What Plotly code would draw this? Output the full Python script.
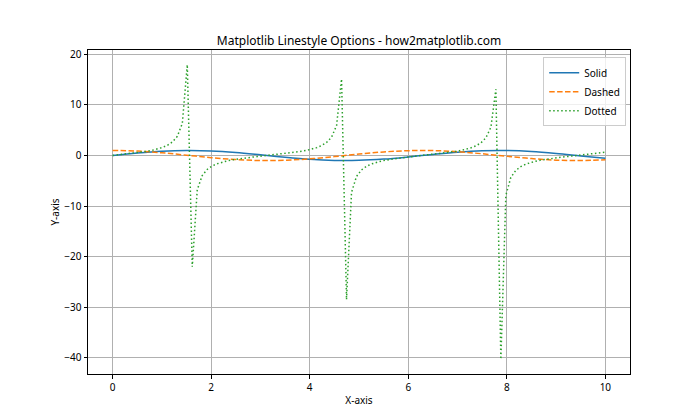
import plotly.graph_objects as go

# x samples (0..10, 100 points) used for the tangent-like dotted series
x_dot = [0.000, 0.101, 0.202, 0.303, 0.404, 0.505, 0.606, 0.707, 0.808, 0.909,
         1.010, 1.111, 1.212, 1.313, 1.414, 1.515, 1.616, 1.717, 1.818, 1.919,
         2.020, 2.121, 2.222, 2.323, 2.424, 2.525, 2.626, 2.727, 2.828, 2.929,
         3.030, 3.131, 3.232, 3.333, 3.434, 3.535, 3.636, 3.737, 3.838, 3.939,
         4.040, 4.141, 4.242, 4.343, 4.444, 4.545, 4.646, 4.747, 4.848, 4.949,
         5.051, 5.152, 5.253, 5.354, 5.455, 5.556, 5.657, 5.758, 5.859, 5.960,
         6.061, 6.162, 6.263, 6.364, 6.465, 6.566, 6.667, 6.768, 6.869, 6.970,
         7.071, 7.172, 7.273, 7.374, 7.475, 7.576, 7.677, 7.778, 7.879, 7.980,
         8.081, 8.182, 8.283, 8.384, 8.485, 8.586, 8.687, 8.788, 8.889, 8.990,
         9.091, 9.192, 9.293, 9.394, 9.495, 9.596, 9.697, 9.798, 9.899, 10.000]
y_dotted = [0.000, 0.101, 0.205, 0.313, 0.428, 0.552, 0.692, 0.854, 1.046, 1.284,
            1.594, 2.020, 2.667, 3.795, 6.334, 17.96, -22.01, -6.777, -3.957, -2.752,
            -2.073, -1.629, -1.312, -1.068, -0.873, -0.709, -0.567, -0.440, -0.324, -0.216,
            -0.112, -0.0105, 0.0907, 0.194, 0.301, 0.415, 0.539, 0.678, 0.836, 1.024,
            1.256, 1.556, 1.969, 2.586, 3.642, 5.934, 15.14, -28.49, -7.303, -4.138,
            -2.844, -2.129, -1.668, -1.340, -1.090, -0.891, -0.724, -0.580, -0.452, -0.335,
            -0.226, -0.122, -0.0206, 0.0806, 0.1835, 0.290, 0.4035, 0.526, 0.663, 0.8195,
            1.004, 1.231, 1.522, 1.920, 2.509, 3.501, 5.584, 13.10, -40.30, -7.906,
            -4.332, -2.940, -2.187, -1.707, -1.369, -1.113, -0.909, -0.740, -0.594, -0.465,
            -0.347, -0.237, -0.133, -0.0308, 0.0703, 0.1729, 0.2791, 0.3916, 0.5133, 0.6484]

# x samples for the smooth solid / dashed series
x_smooth = [0, 0.5, 1, 1.5, 2, 2.5, 3, 3.5, 4, 4.5, 5,
            5.5, 6, 6.5, 7, 7.5, 8, 8.5, 9, 9.5, 10]
y_solid = [0.0, 0.4794, 0.8415, 0.9975, 0.9093, 0.5985, 0.1411, -0.3508, -0.7568, -0.9775, -0.9589,
           -0.7055, -0.2794, 0.2151, 0.6570, 0.9380, 0.9894, 0.7985, 0.4121, -0.0752, -0.5440]
y_dashed = [1.0, 0.8776, 0.5403, 0.0707, -0.4161, -0.8011, -0.9900, -0.9365, -0.6536, -0.2108, 0.2837,
            0.7087, 0.9602, 0.9766, 0.7539, 0.3466, -0.1455, -0.6020, -0.9111, -0.9972, -0.8391]

series_names = ["Solid", "Dashed", "Dotted"]
x_ticks = [0, 2, 4, 6, 8, 10]
y_ticks = [-40, -30, -20, -10, 0, 10, 20]

FONT = "Noto Sans, DejaVu Sans, sans-serif"
OFF = 8  # page body margin offset

fig = go.Figure()
fig.add_trace(go.Scatter(x=x_smooth, y=y_solid, mode="lines", name=series_names[0],
                         line=dict(color="#1f77b4", width=1.5, shape="spline")))
fig.add_trace(go.Scatter(x=x_smooth, y=y_dashed, mode="lines", name=series_names[1],
                         line=dict(color="#ff7f0e", width=1.5, dash="5.5px,2.4px", shape="spline")))
fig.add_trace(go.Scatter(x=x_dot, y=y_dotted, mode="lines", name=series_names[2],
                         line=dict(color="#2ca02c", width=1.5, dash="1.5px,2.5px")))

axis_common = dict(showline=True, linecolor="black", linewidth=1, mirror=True,
                   ticks="outside", ticklen=3.5, tickwidth=0.8, tickcolor="black",
                   showgrid=True, gridcolor="#b0b0b0", gridwidth=0.8, zeroline=False,
                   tickfont=dict(family=FONT, size=10, color="black"))

fig.update_layout(
    width=700, height=420,
    margin=dict(l=88 - OFF, r=70 + OFF, t=50 - OFF, b=46 + OFF),
    paper_bgcolor="white", plot_bgcolor="white",
    title=dict(text="Matplotlib Linestyle Options - how2matplotlib.com",
               x=(359 - OFF) / 700, xanchor="center", y=1 - (41 - OFF) / 420, yanchor="middle",
               font=dict(family=FONT, size=12, color="black")),
    xaxis=dict(range=[-0.5, 10.5], tickvals=x_ticks,
               title=dict(text="X-axis", font=dict(family=FONT, size=10, color="black"), standoff=4),
               **axis_common),
    yaxis=dict(range=[-43.21, 20.87], tickvals=y_ticks,
               title=dict(text="Y-axis", font=dict(family=FONT, size=10, color="black"), standoff=2),
               **axis_common),
    legend=dict(x=0.993, y=0.978, xanchor="right", yanchor="top",
                bgcolor="rgba(255,255,255,0.8)", bordercolor="#cccccc", borderwidth=1,
                font=dict(family=FONT, size=10, color="black"),
                tracegroupgap=0, itemwidth=30),
    showlegend=True,
)

fig.write_html("out.html")
